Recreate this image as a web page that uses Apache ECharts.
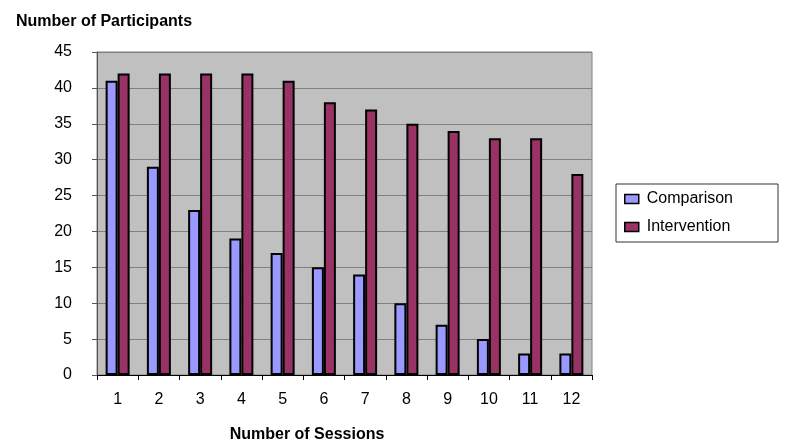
<!DOCTYPE html>
<html>
<head>
<meta charset="utf-8">
<script src="https://cdn.jsdelivr.net/npm/echarts@6/dist/echarts.min.js"></script>
<style>
  html, body { margin: 0; padding: 0; background: #fff; }
  #main { width: 800px; height: 447px; }
</style>
</head>
<body>
<div id="main"></div>
<script>
// 数据
var sessions = ['1', '2', '3', '4', '5', '6', '7', '8', '9', '10', '11', '12']
var comparison = [41, 29, 23, 19, 17, 15, 14, 10, 7, 5, 3, 3]
var intervention = [42, 42, 42, 42, 41, 38, 37, 35, 34, 33, 33, 28]

var font = 'Liberation Sans, Arial, sans-serif'

var myChart = echarts.init(document.getElementById('main'))
myChart.setOption({
  animation: false,
  backgroundColor: '#fff',
  title: [
    {
      text: 'Number of Participants',
      left: 11,
      top: 9,
      textStyle: { fontFamily: font, fontSize: 16, fontWeight: 'bold', color: '#000' }
    },
    {
      text: 'Number of Sessions',
      left: 302,
      top: 422,
      textAlign: 'center',
      textStyle: { fontFamily: font, fontSize: 16, fontWeight: 'bold', color: '#000' }
    }
  ],
  legend: {
    orient: 'vertical',
    left: 616,
    top: 184,
    padding: [7, 45, 7, 8],
    itemGap: 12,
    borderColor: '#333',
    borderWidth: 1,
    itemWidth: 14,
    itemHeight: 9,
    icon: 'rect',
    itemStyle: { borderColor: '#000', borderWidth: 1.5 },
    textStyle: { fontFamily: font, fontSize: 16, color: '#000', padding: [0, 0, 0, 3] },
    data: ['Comparison', 'Intervention']
  },
  grid: {
    left: 97,
    top: 52,
    width: 495,
    height: 323,
    show: true,
    backgroundColor: '#C0C0C0',
    borderColor: '#808080',
    borderWidth: 1
  },
  xAxis: {
    type: 'category',
    data: sessions,
    axisLine: { lineStyle: { color: '#000', width: 1 } },
    axisTick: { show: true, length: 5, lineStyle: { color: '#000' } },
    axisLabel: { margin: 17, fontFamily: font, fontSize: 16, color: '#000' },
    splitLine: { show: false }
  },
  yAxis: {
    type: 'value',
    min: 0,
    max: 45,
    interval: 5,
    axisLine: { show: true, lineStyle: { color: '#555' } },
    axisTick: { show: true, length: 5, lineStyle: { color: '#555' } },
    axisLabel: { margin: 25, fontFamily: font, fontSize: 16, color: '#000' },
    splitLine: { show: true, lineStyle: { color: '#808080', width: 1 } }
  },
  series: [
    {
      name: 'Comparison',
      type: 'bar',
      data: comparison,
      barWidth: 12,
      barGap: '0%',
      itemStyle: { color: '#9999FF', borderColor: '#000', borderWidth: 2 }
    },
    {
      name: 'Intervention',
      type: 'bar',
      data: intervention,
      barWidth: 12,
      itemStyle: { color: '#993366', borderColor: '#000', borderWidth: 2 }
    }
  ]
})
</script>
</body>
</html>
